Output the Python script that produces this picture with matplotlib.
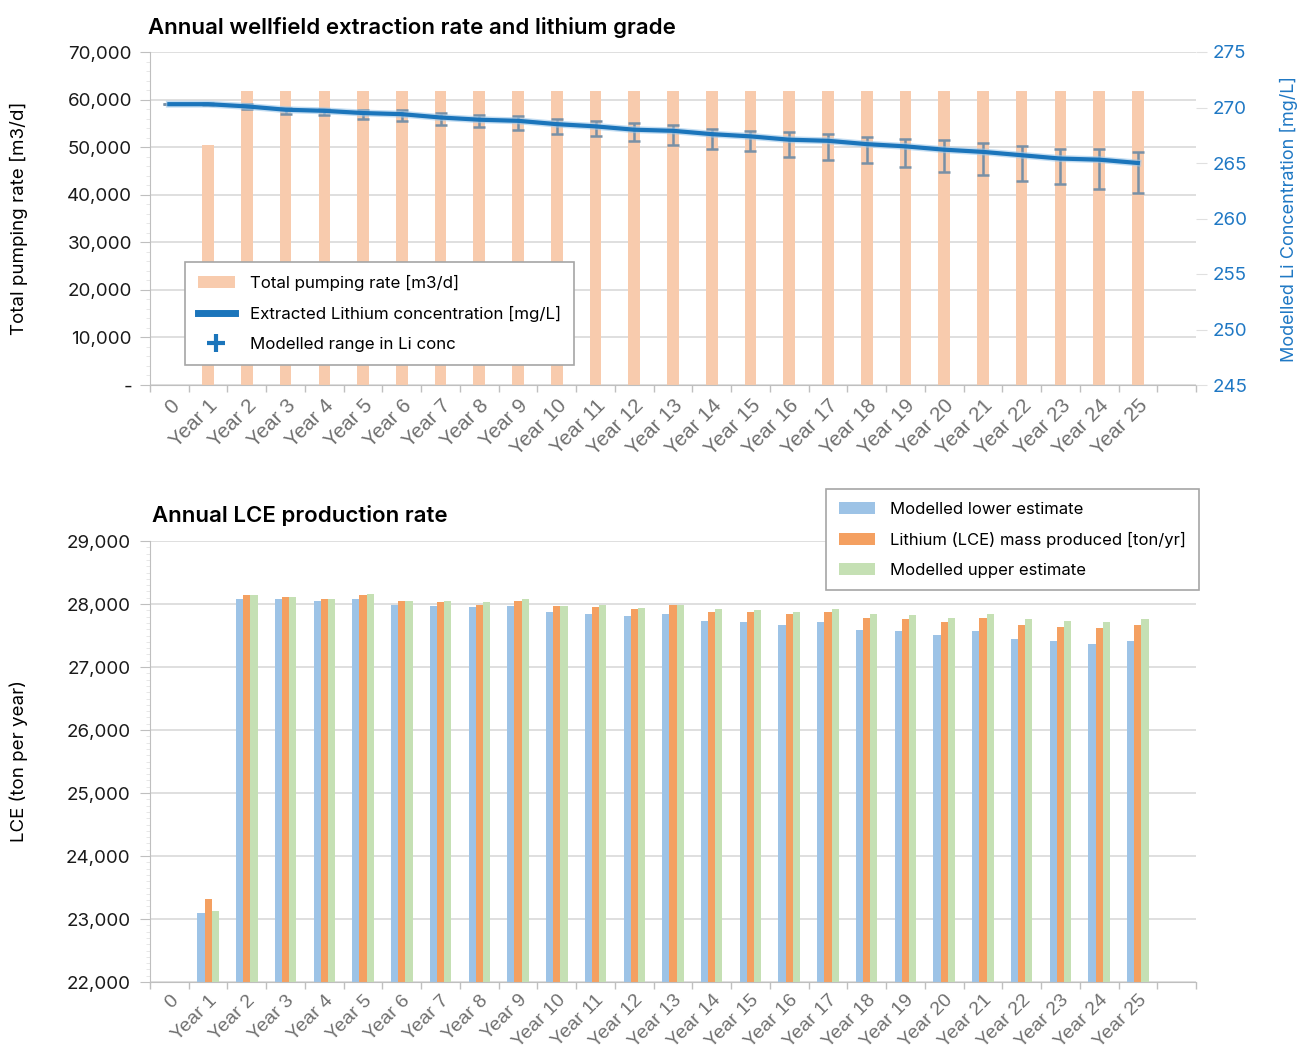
import numpy as np
import matplotlib
matplotlib.use("Agg")
import matplotlib.pyplot as plt
from matplotlib.lines import Line2D
from matplotlib.patches import Patch
from matplotlib.ticker import FuncFormatter, MultipleLocator, FixedLocator
from matplotlib.transforms import ScaledTranslation
import matplotlib.patheffects as pe

plt.rcParams["font.family"] = ["Inter", "DejaVu Sans"]

# ---- data -------------------------------------------------------------
years = ["0", "Year 1", "Year 2", "Year 3", "Year 4", "Year 5", "Year 6",
         "Year 7", "Year 8", "Year 9", "Year 10", "Year 11", "Year 12",
         "Year 13", "Year 14", "Year 15", "Year 16", "Year 17", "Year 18",
         "Year 19", "Year 20", "Year 21", "Year 22", "Year 23", "Year 24",
         "Year 25"]

pumping_rate = [0, 50500, 61700, 61700, 61700, 61700, 61700, 61700, 61700,
                61700, 61700, 61700, 61700, 61700, 61700, 61700, 61700,
                61700, 61700, 61700, 61700, 61700, 61700, 61700, 61700,
                61700]

li_conc = [270.3, 270.3, 270.1, 269.8, 269.7, 269.5, 269.4, 269.1, 268.9,
           268.8, 268.5, 268.3, 268.0, 267.9, 267.6, 267.4, 267.1, 267.0,
           266.7, 266.5, 266.2, 266.0, 265.7, 265.4, 265.3, 265.0]
li_conc_high = [270.3, 270.4, 270.3, 270.0, 269.9, 269.8, 269.8, 269.5,
                269.3, 269.2, 269.0, 268.8, 268.6, 268.4, 268.1, 267.9,
                267.8, 267.6, 267.3, 267.2, 267.1, 266.8, 266.5, 266.3,
                266.3, 266.0]
li_conc_low = [270.3, 270.2, 269.9, 269.4, 269.3, 269.0, 268.8, 268.4,
               268.2, 268.0, 267.6, 267.4, 267.0, 266.6, 266.3, 266.1,
               265.5, 265.3, 265.0, 264.6, 264.2, 263.9, 263.4, 263.1,
               262.7, 262.3]

lce_lower = [np.nan, 23100, 28080, 28080, 28050, 28080, 27990, 27970, 27950,
             27970, 27870, 27840, 27810, 27840, 27730, 27710, 27670, 27710,
             27590, 27570, 27510, 27570, 27450, 27410, 27360, 27410]
lce_mid = [np.nan, 23320, 28140, 28110, 28080, 28140, 28050, 28030, 27980,
           28050, 27970, 27950, 27920, 27980, 27870, 27870, 27840, 27870,
           27780, 27760, 27720, 27780, 27670, 27640, 27620, 27670]
lce_upper = [np.nan, 23130, 28140, 28110, 28080, 28160, 28050, 28050, 28030,
             28080, 27970, 27980, 27940, 27980, 27920, 27900, 27870, 27920,
             27840, 27820, 27780, 27840, 27760, 27730, 27710, 27760]

# ---- style ------------------------------------------------------------
PEACH = "#f8cbad"
LINE_BLUE = "#1b75bb"
AXIS_BLUE = "#1f78c4"
ERR_COL = "#7890a6"
C_LOW = "#9dc3e6"
C_MID = "#f4a061"
C_UP = "#c5e0b4"
GRID = "#d9d9d9"
SPINE = "#bfbfbf"
XLAB = ["Liberation Sans", "DejaVu Sans"]

x = np.arange(len(years))

fig = plt.figure(figsize=(12.99, 10.53), dpi=100)

AX_L = 150 / 1299
AX_W = (1196 - 150) / 1299
shift_left = ScaledTranslation(-5 / 100, 0, fig.dpi_scale_trans)


def style_x(ax, size, pad):
    ax.set_xlim(-0.5, 26.5)
    ax.set_xticks(x)
    ax.set_xticklabels(years, rotation=45, ha="right", rotation_mode="anchor",
                       family=XLAB, fontsize=size, color="#707070")
    for lbl in ax.get_xticklabels():
        lbl.set_transform(lbl.get_transform() + shift_left)
    ax.xaxis.set_minor_locator(FixedLocator(np.arange(-0.5, 27, 1.0)))
    ax.tick_params(axis="x", which="major", length=0, pad=pad)
    ax.tick_params(axis="x", which="minor", length=5, color=SPINE, width=1)
    for s in ("top", "right"):
        ax.spines[s].set_visible(False)
    ax.spines["left"].set_color(SPINE)
    ax.spines["bottom"].set_color(SPINE)
    ax.grid(axis="y", color=GRID, lw=1.2)
    ax.set_axisbelow(True)


# ---- top panel: pumping rate and Li grade ------------------------------
ax1 = fig.add_axes([AX_L, 1 - 385 / 1053, AX_W, 333 / 1053])
ax1.bar(x, pumping_rate, width=0.3, color=PEACH, zorder=2)
ax1.set_ylim(0, 70000)
ax1.yaxis.set_major_locator(MultipleLocator(10000))
ax1.yaxis.set_minor_locator(MultipleLocator(2000))
ax1.yaxis.set_major_formatter(
    FuncFormatter(lambda v, p: "-" if v == 0 else f"{int(v):,}"))
ax1.tick_params(axis="y", which="major", length=7, color=SPINE,
                labelsize=13.5, labelcolor="#1a1a1a", pad=6)
ax1.tick_params(axis="y", which="minor", length=3, color="#e3e3e3")
style_x(ax1, 14.8, 8)
ax1.set_ylabel("Total pumping rate [m3/d]", fontsize=13.5)
ax1.yaxis.set_label_coords(-0.1166, 0.5)

ax1b = ax1.twinx()
ax1b.set_yticks([245, 250, 255, 260, 265, 270, 275])
ax1b.set_ylim(245, 275)
for s in ax1b.spines.values():
    s.set_visible(False)
ax1b.tick_params(axis="y", length=8, color="#e0e0e0", labelsize=13.5,
                 labelcolor=AXIS_BLUE, pad=4)
ax1b.set_ylabel("Modelled Li Concentration [mg/L]", color=AXIS_BLUE,
                fontsize=13)
ax1b.yaxis.set_label_coords(1.0805, 0.5)

conc = np.array(li_conc)
err = np.vstack([conc - np.array(li_conc_low), np.array(li_conc_high) - conc])
ax1b.errorbar(x, conc, yerr=err, fmt="none", ecolor=ERR_COL, elinewidth=1.8,
              capsize=4, capthick=1.8, zorder=3)
ax1b.plot(x, conc, color=LINE_BLUE, lw=3, zorder=4,
          path_effects=[pe.Stroke(linewidth=5, foreground="#9cc7ea", alpha=0.6),
                        pe.Normal()])

handles1 = [Patch(facecolor=PEACH, edgecolor="none"),
            Line2D([], [], color=LINE_BLUE, lw=5),
            Line2D([], [], color=LINE_BLUE, marker="+", ls="none",
                   markersize=13, markeredgewidth=3)]
leg1 = ax1b.legend(handles1,
                   ["Total pumping rate [m3/d]",
                    "Extracted Lithium concentration [mg/L]",
                    "Modelled range in Li conc"],
                   loc="upper left", bbox_to_anchor=(185 / 1299, 1 - 262 / 1053),
                   bbox_transform=fig.transFigure, borderaxespad=0,
                   fontsize=12.2, frameon=True, fancybox=False,
                   edgecolor="#a6a6a6", framealpha=1, borderpad=0.75,
                   labelspacing=0.9, handlelength=2.2, handletextpad=0.9)
leg1.get_frame().set_linewidth(1.2)
leg1.set_zorder(10)

fig.text(148 / 1299, 1 - 27 / 1053,
         "Annual wellfield extraction rate and lithium grade",
         fontsize=16, fontweight="semibold", va="center", ha="left")

# ---- bottom panel: LCE production ---------------------------------------
ax2 = fig.add_axes([AX_L, 1 - 982 / 1053, AX_W, 441 / 1053])
bw = 0.185
ax2.bar(x - bw, lce_lower, width=bw, color=C_LOW, zorder=2)
ax2.bar(x, lce_mid, width=bw, color=C_MID, zorder=2)
ax2.bar(x + bw, lce_upper, width=bw, color=C_UP, zorder=2)
ax2.set_ylim(22000, 29000)
ax2.yaxis.set_major_locator(MultipleLocator(1000))
ax2.yaxis.set_minor_locator(MultipleLocator(100))
ax2.yaxis.set_major_formatter(FuncFormatter(lambda v, p: f"{int(v):,}"))
ax2.tick_params(axis="y", which="major", length=7, color=SPINE,
                labelsize=13.5, labelcolor="#1a1a1a", pad=7)
ax2.tick_params(axis="y", which="minor", length=3, color="#e3e3e3")
style_x(ax2, 14.0, 7)
ax2.set_ylabel("LCE (ton per year)", fontsize=13.5)
ax2.yaxis.set_label_coords(-0.1166, 0.5)

leg2 = fig.legend([Patch(facecolor=C_LOW), Patch(facecolor=C_MID),
                   Patch(facecolor=C_UP)],
                  ["Modelled lower estimate",
                   "Lithium (LCE) mass produced [ton/yr]",
                   "Modelled upper estimate"],
                  loc="upper left", bbox_to_anchor=(826 / 1299, 1 - 489 / 1053),
                  borderaxespad=0, fontsize=12.0, frameon=True,
                  fancybox=False, edgecolor="#a6a6a6", framealpha=1,
                  borderpad=0.75, labelspacing=0.9, handlelength=2.2,
                  handletextpad=0.9)
leg2.get_frame().set_linewidth(1.2)

fig.text(152 / 1299, 1 - 515 / 1053, "Annual LCE production rate",
         fontsize=16, fontweight="semibold", va="center", ha="left")

fig.savefig("out.png", dpi=100, facecolor="white")
